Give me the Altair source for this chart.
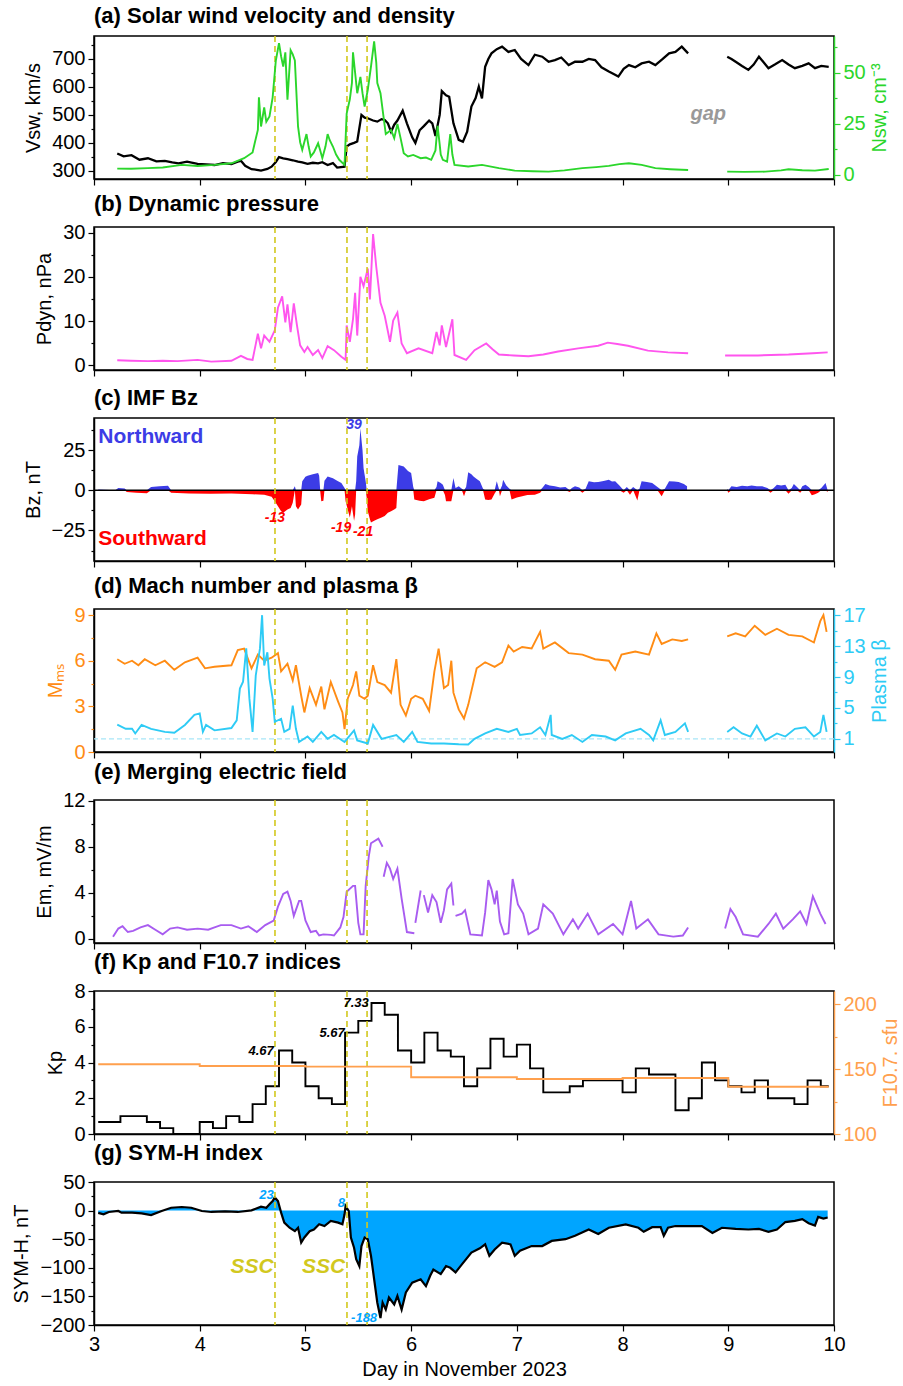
import altair as alt
import pandas as pd

FONT = "Liberation Sans"
W, H = 740, 143
XD = [3, 10]
EVENT_DAYS = [4.712, 5.393, 5.583]
X_TICKS = [3 + 0.25 * i for i in range(29)]

YEL = "#d2c81e"
GREEN = "#2bd62b"
MAGENTA = "#ff55ee"
BZ_BLUE = "#3c3ce6"
BZ_RED = "#ff0000"
ORANGE = "#ff8c14"
CYAN = "#2ecbf5"
PURPLE = "#a85cf0"
F107_COL = "#ffa04d"
SYM_FILL = "#00a5ff"

# ---------------- data (day, value); None marks a data gap ----------------
VSW = [(3.22, 362), (3.28, 352), (3.355, 356), (3.43, 340), (3.51, 345), (3.59, 334), (3.67, 336), (3.74, 330),
       (3.80, 327), (3.88, 333), (3.98, 325), (4.06, 323), (4.14, 321), (4.22, 328), (4.30, 324), (4.36, 333),
       (4.39, 336), (4.43, 318), (4.49, 306), (4.54, 304), (4.58, 301), (4.64, 307), (4.68, 315), (4.72, 332),
       (4.75, 349), (4.79, 345), (4.83, 342), (4.88, 338), (4.93, 333), (4.97, 330), (5.02, 325), (5.07, 329),
       (5.12, 327), (5.16, 331), (5.21, 321), (5.26, 328), (5.30, 312), (5.37, 315), (5.39, 387), (5.42, 395),
       (5.46, 400), (5.49, 405), (5.53, 500), (5.56, 490), (5.59, 488), (5.64, 480), (5.68, 476), (5.72, 485),
       (5.75, 482), (5.78, 470), (5.81, 440), (5.84, 465), (5.87, 480), (5.92, 515), (5.96, 470), (6.01, 420),
       (6.04, 400), (6.08, 445), (6.12, 460), (6.17, 480), (6.20, 470), (6.23, 425), (6.27, 500), (6.29, 585),
       (6.33, 570), (6.36, 565), (6.40, 470), (6.45, 411), (6.49, 404), (6.53, 440), (6.57, 530), (6.61, 560),
       (6.64, 601), (6.67, 559), (6.70, 672), (6.73, 700), (6.76, 720), (6.81, 735), (6.86, 744), (6.92, 725),
       (6.98, 732), (7.04, 700), (7.11, 678), (7.17, 715), (7.24, 708), (7.30, 690), (7.36, 696), (7.42, 705),
       (7.49, 678), (7.55, 690), (7.62, 690), (7.68, 700), (7.74, 696), (7.80, 670), (7.87, 655), (7.92, 645),
       (7.96, 637), (8.01, 665), (8.06, 678), (8.12, 670), (8.18, 684), (8.25, 690), (8.31, 678), (8.38, 700),
       (8.44, 720), (8.50, 725), (8.56, 744), (8.62, 720), (8.80, None), (8.99, 708), (9.03, 700), (9.07, 690),
       (9.13, 675), (9.19, 661), (9.24, 680), (9.29, 708), (9.33, 690), (9.38, 667), (9.44, 680), (9.51, 696),
       (9.57, 680), (9.63, 667), (9.70, 675), (9.76, 684), (9.82, 667), (9.88, 675), (9.95, 672)]

NSW = [(3.22, 3.1), (3.35, 3.0), (3.51, 3.3), (3.65, 3.6), (3.83, 4.9), (3.98, 4.4), (4.14, 4.9), (4.30, 5.7),
       (4.42, 8.2), (4.50, 11), (4.52, 15.5), (4.55, 22), (4.56, 38), (4.58, 23.7), (4.61, 33), (4.63, 26),
       (4.66, 28.6), (4.69, 38), (4.72, 56), (4.75, 64.5), (4.77, 58), (4.79, 53), (4.81, 60), (4.83, 36.8),
       (4.86, 61), (4.88, 59), (4.90, 56), (4.93, 23.7), (4.95, 16), (4.97, 12.3), (5.01, 20), (5.03, 14),
       (5.05, 9), (5.08, 11), (5.12, 15.5), (5.14, 12), (5.16, 8.2), (5.19, 14), (5.21, 20), (5.23, 17),
       (5.26, 13.9), (5.29, 10), (5.32, 7.4), (5.37, 4.9), (5.39, 30), (5.42, 37), (5.44, 45), (5.45, 60),
       (5.47, 50), (5.49, 40), (5.52, 48), (5.54, 40), (5.56, 33.5), (5.59, 41.7), (5.62, 53), (5.65, 65.4),
       (5.67, 55), (5.68, 45), (5.71, 40), (5.73, 32), (5.76, 20), (5.81, 22), (5.84, 18), (5.87, 25),
       (5.90, 18), (5.93, 10.6), (5.97, 9), (6.02, 9.8), (6.09, 8.2), (6.14, 8.5), (6.19, 7.4), (6.23, 12),
       (6.25, 24), (6.27, 15), (6.28, 10), (6.30, 7.4), (6.34, 6.5), (6.37, 20), (6.39, 10), (6.41, 4.9),
       (6.54, 4.1), (6.67, 4.9), (6.83, 3.3), (6.98, 2.1), (7.15, 1.8), (7.30, 1.6), (7.45, 2.2), (7.62, 3.3),
       (7.75, 3.8), (7.87, 4.4), (7.97, 5.3), (8.06, 5.7), (8.18, 4.9), (8.31, 3.3), (8.45, 2.8), (8.56, 2.5),
       (8.62, 2.4), (8.80, None), (8.99, 1.6), (9.15, 1.5), (9.35, 1.6), (9.50, 2.2), (9.57, 2.8), (9.70, 2.3),
       (9.82, 2.1), (9.95, 2.9)]

PDYN = [(3.22, 1.1), (3.35, 1.0), (3.51, 0.9), (3.65, 1.0), (3.79, 0.9), (3.98, 1.2), (4.11, 0.8), (4.30, 1.0),
        (4.39, 2.1), (4.45, 1.4), (4.50, 1.2), (4.55, 7.1), (4.58, 3.8), (4.61, 6.7), (4.66, 5.3), (4.71, 7.9),
        (4.74, 13), (4.78, 15.6), (4.81, 9.7), (4.83, 13.8), (4.86, 7.5), (4.89, 14), (4.92, 9), (4.95, 4.5),
        (4.99, 3.0), (5.02, 4.1), (5.07, 2.3), (5.12, 3.4), (5.16, 1.6), (5.21, 4.3), (5.27, 3.4), (5.34, 1.9),
        (5.38, 1.2), (5.39, 9), (5.42, 5.3), (5.45, 10.4), (5.47, 16.4), (5.49, 6.7), (5.52, 20), (5.55, 17.9),
        (5.59, 21.9), (5.61, 14.9), (5.64, 29.7), (5.67, 22.3), (5.71, 14.1), (5.75, 11.2), (5.80, 5.3),
        (5.83, 10.1), (5.87, 11.9), (5.91, 4.9), (5.96, 2.7), (6.07, 3.8), (6.20, 2.7), (6.24, 7.5), (6.27, 4.5),
        (6.29, 9), (6.33, 4.1), (6.39, 10.4), (6.41, 2.3), (6.52, 1.2), (6.60, 3.4), (6.71, 4.9), (6.77, 3.6),
        (6.83, 2.4), (6.97, 2.2), (7.11, 2.0), (7.25, 2.4), (7.39, 3.1), (7.58, 3.8), (7.77, 4.4), (7.86, 5.1),
        (7.95, 4.8), (8.05, 4.4), (8.24, 3.3), (8.43, 2.9), (8.62, 2.7), (8.80, None), (8.97, 2.2), (9.28, 2.2),
        (9.57, 2.4), (9.80, 2.7), (9.94, 2.9)]

BZ = [(3.04, 0.5), (3.20, 0.0), (3.23, 1.4), (3.29, 1.2), (3.31, -1.0), (3.40, -1.6), (3.50, -1.8), (3.54, 2.0),
      (3.62, 2.5), (3.70, 2.8), (3.73, -1.5), (3.90, -2.0), (4.10, -2.2), (4.30, -2.0), (4.50, -2.5), (4.61, -2.7),
      (4.68, -4.0), (4.71, -6.8), (4.74, -10), (4.77, -13), (4.79, -14), (4.83, -12), (4.86, -11), (4.88, -7.8),
      (4.90, 2.5), (4.91, -10), (4.93, -12), (4.96, -8.8), (4.97, 5.6), (5.00, 8.5), (5.02, 9.0), (5.07, 10.0),
      (5.12, 10.7), (5.13, 9.0), (5.14, -0.6), (5.15, -6.8), (5.17, -6.5), (5.18, 6.0), (5.21, 8.6), (5.26, 7.5),
      (5.30, 6.0), (5.34, 4.5), (5.37, 1.4), (5.38, -6.8), (5.40, -12), (5.42, -17), (5.44, -10), (5.46, -19),
      (5.47, -15), (5.48, 5.6), (5.49, 21), (5.51, 28), (5.52, 38.5), (5.54, 25), (5.55, 13.8), (5.57, 5.6),
      (5.58, -5), (5.59, -13), (5.61, -18), (5.62, -20), (5.65, -19), (5.68, -18), (5.72, -17), (5.75, -16),
      (5.78, -14), (5.81, -13), (5.84, -12), (5.86, -11), (5.87, 8), (5.88, 15.8), (5.93, 14.8), (5.97, 12),
      (6.00, 10.7), (6.02, 2), (6.03, -5.8), (6.08, -6.5), (6.12, -6.8), (6.17, -5.5), (6.22, -4.7), (6.24, 2),
      (6.25, 5.6), (6.28, 4.5), (6.30, 3.5), (6.32, -3), (6.33, -6.8), (6.38, -6.8), (6.40, 7.6), (6.42, 1.5),
      (6.45, 2.5), (6.48, 1.0), (6.50, -3.7), (6.52, 2), (6.54, 11.3), (6.57, 10), (6.59, 8.6), (6.62, 7),
      (6.65, 5.6), (6.68, 1), (6.70, -5.8), (6.73, -6.0), (6.76, -5.8), (6.79, -2), (6.81, 5.6), (6.83, 1),
      (6.84, -3.7), (6.86, 3), (6.87, 6.6), (6.90, 3), (6.93, 1), (6.95, -5.8), (7.00, -4.5), (7.05, -3.7),
      (7.10, -3.0), (7.17, -2.7), (7.22, -1.5), (7.24, 1.5), (7.27, 3.9), (7.31, 3.0), (7.36, 2.5), (7.41, 1.8),
      (7.46, 2.0), (7.50, -1.0), (7.52, 1.5), (7.55, 2.5), (7.59, 1.8), (7.62, -1.6), (7.65, 1.0), (7.68, 5.6),
      (7.73, 5.0), (7.77, 5.2), (7.82, 5.8), (7.87, 6.6), (7.90, 5.5), (7.93, 5.6), (7.97, 3), (8.01, -1.6),
      (8.04, 2), (8.07, -2.7), (8.10, 2), (8.14, -6.4), (8.16, 1), (8.18, 5.6), (8.23, 5.2), (8.28, 4.6),
      (8.33, 2), (8.37, -3.7), (8.40, 1), (8.44, 5.6), (8.49, 5.5), (8.53, 5.2), (8.58, 4), (8.61, 2.5),
      (8.80, None), (8.99, 1.0), (9.00, -1.6), (9.03, 2.5), (9.08, 2.0), (9.13, 2.9), (9.18, 2.5), (9.22, 3.0),
      (9.27, 2.5), (9.32, 2.5), (9.37, 1.5), (9.40, -1.6), (9.43, 1.5), (9.46, 3.5), (9.50, 3.0), (9.54, 3.5),
      (9.57, -2.2), (9.60, 1.5), (9.62, 3.9), (9.65, 2.0), (9.68, -1.6), (9.70, 2.5), (9.73, 3.5), (9.76, 2.0),
      (9.79, -3.1), (9.82, -2.5), (9.85, -1.6), (9.88, 1.5), (9.92, 4.5), (9.94, -1.0)]

MMS = [(3.22, 6.1), (3.29, 5.8), (3.36, 6.0), (3.42, 5.7), (3.48, 6.1), (3.58, 5.7), (3.67, 6.0), (3.76, 5.4),
       (3.86, 5.9), (3.98, 6.2), (4.05, 5.5), (4.14, 5.6), (4.30, 5.7), (4.36, 6.7), (4.42, 6.8), (4.49, 5.5),
       (4.55, 6.4), (4.61, 6.0), (4.68, 6.2), (4.74, 6.5), (4.77, 5.3), (4.83, 5.8), (4.88, 4.7), (4.91, 5.7),
       (4.96, 3.7), (4.99, 2.6), (5.04, 4.2), (5.10, 3.1), (5.15, 4.3), (5.18, 2.8), (5.24, 4.6), (5.31, 3.3),
       (5.35, 2.6), (5.37, 1.5), (5.40, 3.5), (5.45, 4.4), (5.48, 5.3), (5.51, 3.7), (5.56, 3.5), (5.59, 3.7),
       (5.64, 5.7), (5.68, 4.6), (5.75, 4.4), (5.81, 3.9), (5.86, 6.1), (5.90, 3.1), (5.95, 2.4), (6.00, 3.5),
       (6.04, 3.7), (6.11, 3.5), (6.17, 2.7), (6.22, 5.3), (6.26, 6.8), (6.31, 4.2), (6.35, 4.4), (6.38, 6.0),
       (6.40, 3.9), (6.45, 2.8), (6.50, 2.2), (6.54, 3.1), (6.59, 4.6), (6.62, 5.5), (6.70, 5.9), (6.79, 5.6),
       (6.86, 5.9), (6.92, 7.0), (6.97, 6.6), (7.05, 6.9), (7.14, 6.8), (7.22, 7.9), (7.25, 6.8), (7.36, 7.2),
       (7.49, 6.5), (7.62, 6.4), (7.74, 6.1), (7.87, 6.0), (7.93, 5.4), (7.99, 6.4), (8.12, 6.6), (8.25, 6.4),
       (8.32, 7.8), (8.37, 7.1), (8.47, 7.4), (8.56, 7.3), (8.62, 7.4), (8.80, None), (8.99, 7.6), (9.07, 7.8),
       (9.16, 7.6), (9.25, 8.3), (9.35, 7.7), (9.46, 8.1), (9.57, 7.7), (9.70, 7.6), (9.81, 7.2), (9.87, 8.6),
       (9.90, 9.0), (9.93, 7.9)]

BETA = [(3.22, 2.85), (3.30, 2.3), (3.36, 2.3), (3.39, 1.7), (3.45, 2.8), (3.54, 2.3), (3.67, 1.9), (3.76, 1.8),
        (3.86, 2.8), (3.95, 4.1), (4.00, 4.3), (4.03, 1.9), (4.06, 2.8), (4.14, 2.1), (4.30, 2.4), (4.35, 3.4),
        (4.38, 7.5), (4.41, 8.4), (4.44, 12.7), (4.47, 6.2), (4.50, 1.9), (4.53, 9.2), (4.57, 12.7), (4.59, 17.0),
        (4.61, 10.5), (4.64, 12.2), (4.66, 8.8), (4.69, 6.2), (4.71, 3.2), (4.77, 3.6), (4.80, 1.9), (4.85, 2.3),
        (4.88, 5.3), (4.91, 2.3), (4.94, 0.6), (5.02, 1.3), (5.07, 0.6), (5.15, 1.9), (5.21, 1.0), (5.27, 1.5),
        (5.37, 0.6), (5.46, 2.1), (5.49, 0.8), (5.59, 0.4), (5.64, 2.8), (5.72, 1.0), (5.86, 1.5), (5.93, 0.6),
        (6.01, 1.9), (6.06, 0.6), (6.19, 0.4), (6.31, 0.4), (6.45, 0.3), (6.54, 0.27), (6.60, 1.0), (6.70, 1.7),
        (6.81, 2.3), (6.92, 1.9), (7.00, 2.3), (7.03, 1.5), (7.14, 1.7), (7.22, 2.5), (7.27, 1.5), (7.32, 4.1),
        (7.33, 1.5), (7.43, 1.0), (7.52, 1.5), (7.62, 0.6), (7.71, 1.5), (7.84, 1.3), (7.93, 0.8), (8.03, 1.7),
        (8.17, 2.3), (8.25, 1.5), (8.29, 0.8), (8.36, 3.4), (8.40, 1.5), (8.50, 1.9), (8.59, 3.0), (8.62, 1.9),
        (8.80, None), (8.99, 1.9), (9.05, 2.5), (9.13, 1.7), (9.21, 1.3), (9.27, 2.7), (9.35, 0.8), (9.46, 1.7),
        (9.54, 1.3), (9.63, 2.3), (9.73, 2.5), (9.81, 1.3), (9.87, 1.9), (9.90, 4.1), (9.93, 1.9)]

EM = [(3.18, 0.2), (3.23, 0.9), (3.27, 1.1), (3.32, 0.6), (3.37, 0.7), (3.44, 1.0), (3.51, 1.2), (3.58, 0.8),
      (3.65, 0.4), (3.72, 0.9), (3.79, 1.0), (3.88, 0.8), (3.98, 0.9), (4.08, 0.8), (4.14, 1.0), (4.20, 1.2),
      (4.30, 1.2), (4.39, 0.9), (4.46, 1.1), (4.54, 0.6), (4.62, 1.2), (4.70, 1.6), (4.74, 2.8), (4.79, 3.9),
      (4.83, 4.1), (4.86, 3.3), (4.89, 2.0), (4.94, 3.3), (4.96, 3.3), (5.00, 1.6), (5.05, 0.6), (5.10, 0.7),
      (5.13, 0.3), (5.17, 0.4), (5.24, 0.35), (5.27, 0.3), (5.33, 1.0), (5.36, 1.9), (5.39, 4.1), (5.45, 4.6),
      (5.47, 4.6), (5.50, 1.4), (5.52, 0.4), (5.55, 0.4), (5.57, 4.6), (5.60, 7.2), (5.62, 8.3), (5.69, 8.7),
      (5.73, 8.0), (5.735, None), (5.74, 5.4), (5.77, 6.6), (5.80, 6.1), (5.83, 5.2), (5.87, 6.1), (5.91, 3.5),
      (5.96, 0.6), (6.03, 0.5), (6.035, None), (6.04, 1.4), (6.09, 4.2), (6.10, None), (6.12, 3.8), (6.16, 2.3),
      (6.20, 3.8), (6.24, 3.2), (6.28, 1.4), (6.31, 2.5), (6.34, 4.3), (6.38, 4.8), (6.40, 2.9), (6.41, None),
      (6.42, 2.0), (6.48, 2.2), (6.51, 2.5), (6.56, 0.4), (6.67, 0.3), (6.70, 2.3), (6.73, 5.1), (6.76, 4.3),
      (6.79, 3.0), (6.81, 4.2), (6.84, 1.5), (6.88, 0.4), (6.92, 0.5), (6.96, 5.2), (7.01, 3.0), (7.06, 2.2),
      (7.11, 0.4), (7.20, 0.9), (7.25, 3.0), (7.34, 2.2), (7.44, 0.4), (7.53, 1.7), (7.58, 0.9), (7.67, 2.2),
      (7.77, 0.4), (7.91, 1.3), (8.00, 0.4), (8.08, 3.3), (8.13, 0.9), (8.24, 1.7), (8.34, 0.4), (8.48, 0.2),
      (8.57, 0.3), (8.62, 1.0), (8.80, None), (8.97, 0.9), (9.02, 2.6), (9.07, 1.9), (9.14, 0.4), (9.28, 0.2),
      (9.38, 1.3), (9.45, 2.2), (9.52, 0.9), (9.61, 1.7), (9.68, 2.4), (9.74, 1.3), (9.80, 3.7), (9.87, 2.2),
      (9.92, 1.3)]

KP_T = [3.04, 3.25, 3.5, 3.625, 3.75, 4.0, 4.125, 4.25, 4.375, 4.5, 4.625, 4.75, 4.875, 5.0, 5.125, 5.25,
        5.375, 5.5, 5.625, 5.75, 5.875, 6.0, 6.125, 6.25, 6.375, 6.5, 6.625, 6.75, 6.875, 7.0, 7.125, 7.25,
        7.5, 7.625, 8.0, 8.125, 8.25, 8.5, 8.625, 8.75, 8.875, 9.0, 9.125, 9.25, 9.375, 9.625, 9.75, 9.875, 9.95]
KP_V = [0.67, 1.0, 0.67, 0.33, 0.0, 0.67, 0.33, 1.0, 0.67, 1.67, 2.67, 4.67, 4.0, 2.67, 2.0, 1.67,
        5.67, 6.33, 7.33, 6.67, 4.67, 4.0, 5.67, 4.67, 4.33, 2.67, 3.67, 5.33, 4.33, 5.0, 3.67, 2.33,
        2.67, 3.0, 2.33, 3.67, 3.33, 1.33, 2.0, 4.0, 3.0, 2.67, 2.33, 3.0, 2.0, 1.67, 3.0, 2.67, 2.67]

F107_T = [3.04, 4.0, 5.0, 6.0, 7.0, 8.0, 9.0, 9.95]
F107_V = [153.6, 152.3, 151.8, 143.6, 142.3, 143.1, 136.4, 136.4]

SYMH = [(3.04, -4), (3.09, -6.5), (3.14, -2.4), (3.23, -0.7), (3.26, -3.6), (3.36, -3.6), (3.45, -4.8),
        (3.54, -7.7), (3.64, -0.7), (3.73, 5), (3.83, 6.3), (3.92, 5), (4.02, -0.7), (4.11, -2.4), (4.24, -1.2),
        (4.36, -2.4), (4.49, 0.5), (4.58, 6.9), (4.63, 5), (4.66, 11), (4.69, 16.8), (4.71, 23), (4.74, 16.8),
        (4.77, -3.6), (4.80, -21), (4.85, -30), (4.90, -36), (4.93, -30), (4.96, -56), (4.99, -47), (5.04, -36),
        (5.08, -33), (5.13, -24), (5.18, -27), (5.24, -18), (5.31, -21), (5.35, -24), (5.37, -6.5), (5.38, 8),
        (5.41, -0.7), (5.43, -47), (5.46, -65), (5.48, -85), (5.51, -97), (5.53, -62), (5.56, -47), (5.59, -50),
        (5.62, -79), (5.65, -120), (5.68, -161), (5.71, -188), (5.73, -161), (5.76, -173), (5.79, -152),
        (5.84, -164), (5.87, -149), (5.91, -173), (5.95, -143), (6.01, -126), (6.09, -120), (6.14, -132),
        (6.18, -114), (6.21, -103), (6.28, -111), (6.33, -97), (6.37, -100), (6.42, -108), (6.48, -94),
        (6.57, -73.5), (6.65, -66), (6.70, -59), (6.74, -79), (6.79, -68), (6.86, -56), (6.94, -59), (6.98, -79),
        (7.03, -70), (7.14, -62), (7.24, -62), (7.33, -53), (7.46, -50), (7.55, -44), (7.68, -33), (7.77, -41),
        (7.87, -30), (8.03, -24), (8.15, -30), (8.20, -37), (8.28, -29), (8.36, -29), (8.39, -44), (8.43, -30),
        (8.50, -27), (8.62, -27), (8.75, -27), (8.85, -39), (8.94, -30), (9.07, -32), (9.19, -33), (9.29, -32),
        (9.38, -37), (9.46, -33), (9.54, -20), (9.63, -18), (9.70, -15), (9.76, -22), (9.82, -26), (9.85, -11),
        (9.90, -14), (9.94, -12)]

# annotations: (text, day, value, colour)
GAP_LABEL = [("gap", 8.81, 504, "#999999")]
BZ_NUMS = [("39", 5.46, 40.5, BZ_BLUE), ("-13", 4.712, -17.3, BZ_RED), ("-19", 5.337, -23.2, BZ_RED),
           ("-21", 5.545, -25.7, BZ_RED)]
BZ_WORDS = [("Northward", 3.04, 33.3, BZ_BLUE), ("Southward", 3.04, -30.2, BZ_RED)]
KP_RIGHT = [("4.67", 4.70, 4.64), ("5.67", 5.372, 5.67)]
KP_CENTER = [("7.33", 5.48, 7.33)]
SYM_RIGHT = [("23", 4.70, 27), ("8", 5.375, 13)]
SYM_CENTER = [("-188", 5.555, -187)]
SSC = [("SSC", 4.70, -99), ("SSC", 5.375, -99)]

LABEL_SIZE = 20


def series(pairs):
    df = pd.DataFrame(pairs, columns=["t", "v"])
    df["seg"] = df["v"].isna().cumsum()
    df = df.dropna().copy()
    df["z"] = 0.0
    return df


def labels_df(rows, cols):
    return pd.DataFrame(rows, columns=cols)


def x_enc(bottom=False):
    ax = dict(values=X_TICKS, grid=False, labelFlush=False, labelOverlap=False, format="d",
              tickSize={"condition": {"test": "datum.value % 1 == 0", "value": 6}, "value": 3},
              domainColor="black", tickColor="black")
    if bottom:
        ax.update(labelExpr="datum.value % 1 == 0 ? datum.label : ''",
                  title="Day in November 2023", labelPadding=3, titlePadding=5)
    else:
        ax.update(labels=False, title=None)
    return alt.X("t:Q", scale=alt.Scale(domain=XD, nice=False, zero=False), axis=alt.Axis(**ax))


def y_enc(field, domain, vals, major, title, orient="left", label_color="black",
          domain_color="black", tick_color="black"):
    extra = dict(titlePadding=8)
    if orient == "right":
        extra = dict(titleAngle=270, titleBaseline="top", titlePadding=4)
    ax = alt.Axis(values=vals, orient=orient, title=title, grid=False, labelOverlap=False,
                  labelFlush=False,
                  labelExpr=f"({major}) ? datum.label : ''",
                  tickSize={"condition": {"test": major, "value": 6}, "value": 3},
                  labelColor=label_color, titleColor=label_color, tickColor=tick_color,
                  domainColor=domain_color, labelPadding=3, **extra)
    return alt.Y(field, scale=alt.Scale(domain=domain, nice=False, zero=False), axis=ax)


def events(bottom=False):
    return alt.Chart(pd.DataFrame({"t": EVENT_DAYS})).mark_rule(
        color=YEL, strokeDash=[6, 4], strokeWidth=1.6).encode(x=x_enc(bottom))


def title(text):
    return alt.TitleParams(text, anchor="start", frame="group", offset=7, fontSize=22,
                           fontWeight="bold", font=FONT, color="black")


def line(df, color, y, bottom=False, width=1.9):
    return alt.Chart(df).mark_line(color=color, strokeWidth=width).encode(
        x=x_enc(bottom), y=y, detail="seg:N")


def text_layer(df, y, color_field=True, align="center", size=14, style="italic", weight="bold",
               color="black", bottom=False):
    enc = dict(x=x_enc(bottom), y=y, text="label:N")
    if color_field:
        enc["color"] = alt.Color("c:N", scale=None)
    return alt.Chart(df).mark_text(align=align, baseline="middle", fontSize=size, fontStyle=style,
                                   fontWeight=weight, font=FONT, color=color).encode(**enc)


# ---------------- (a) ----------------
vsw_y = lambda f: y_enc(f, [271, 782], list(range(300, 751, 50)), "datum.value % 100 == 0", "Vsw, km/s")
nsw_y = y_enc("v:Q", [-2, 68], [0, 12.5, 25, 37.5, 50, 62.5], "datum.value % 25 == 0", "Nsw, cm⁻³",
              orient="right", label_color=GREEN, domain_color=GREEN, tick_color=GREEN)
pa_left = alt.layer(
    line(series(VSW), "black", vsw_y("v:Q"), width=2.3),
    events(),
    text_layer(labels_df(GAP_LABEL, ["label", "t", "v", "c"]), vsw_y("v:Q"), size=20),
)
pa_right = line(series(NSW), GREEN, nsw_y)
panel_a = alt.layer(pa_left, pa_right).resolve_scale(y="independent").properties(
    width=W, height=H, title=title("(a) Solar wind velocity and density"))

# ---------------- (b) ----------------
pd_y = y_enc("v:Q", [-1.1, 31.3], [0, 5, 10, 15, 20, 25, 30], "datum.value % 10 == 0", "Pdyn, nPa")
panel_b = alt.layer(line(series(PDYN), MAGENTA, pd_y), events()).properties(
    width=W, height=H, title=title("(b) Dynamic pressure"))

# ---------------- (c) ----------------
bz_dom = [-44, 45]
bz_vals = [-37.5, -25, -12.5, 0, 12.5, 25, 37.5]
bz_major = "datum.value % 25 == 0"
bz_y = lambda f: y_enc(f, bz_dom, bz_vals, bz_major, "Bz, nT")
bz_df = series(BZ)
bz_df["pos"] = bz_df["v"].clip(lower=0)
bz_df["neg"] = bz_df["v"].clip(upper=0)
zero_df = pd.DataFrame({"v": [0.0]})
panel_c = alt.layer(
    alt.Chart(bz_df).mark_area(color=BZ_BLUE, opacity=1).encode(
        x=x_enc(), y=bz_y("pos:Q"), y2="z:Q", detail="seg:N"),
    alt.Chart(bz_df).mark_area(color=BZ_RED, opacity=1).encode(
        x=x_enc(), y=bz_y("neg:Q"), y2="z:Q", detail="seg:N"),
    alt.Chart(zero_df).mark_rule(color="black", strokeWidth=1.4).encode(y=bz_y("v:Q")),
    events(),
    text_layer(labels_df(BZ_NUMS, ["label", "t", "v", "c"]), bz_y("v:Q"), size=14),
    text_layer(labels_df(BZ_WORDS, ["label", "t", "v", "c"]), bz_y("v:Q"), align="left", size=21,
               style="normal"),
).properties(width=W, height=H, title=title("(c) IMF Bz"))

# ---------------- (d) ----------------
mms_y = y_enc("v:Q", [0, 9.4], [0, 1.5, 3, 4.5, 6, 7.5, 9], "datum.value % 3 == 0", "Mₘₛ",
              label_color=ORANGE, tick_color=ORANGE)
beta_y = y_enc("v:Q", [-0.7, 17.8], [1, 3, 5, 7, 9, 11, 13, 15, 17], "(datum.value - 1) % 4 == 0",
               "Plasma β", orient="right", label_color=CYAN, domain_color=CYAN, tick_color=CYAN)
pd_left = alt.layer(line(series(MMS), ORANGE, mms_y), events())
pd_right = alt.layer(
    alt.Chart(pd.DataFrame({"v": [1.0]})).mark_rule(color="#a8e6f8", strokeDash=[5, 3],
                                                    strokeWidth=1.2).encode(y=beta_y),
    line(series(BETA), CYAN, beta_y),
)
panel_d = alt.layer(pd_left, pd_right).resolve_scale(y="independent").properties(
    width=W, height=H, title=title("(d) Mach number and plasma β"))

# ---------------- (e) ----------------
em_y = y_enc("v:Q", [-0.35, 12.05], [0, 2, 4, 6, 8, 10, 12], "datum.value % 4 == 0", "Em, mV/m")
panel_e = alt.layer(line(series(EM), PURPLE, em_y), events()).properties(
    width=W, height=H, title=title("(e) Merging electric field"))

# ---------------- (f) ----------------
kp_y = y_enc("v:Q", [0, 8], [0, 1, 2, 3, 4, 5, 6, 7, 8], "datum.value % 2 == 0", "Kp")
f107_y = y_enc("v:Q", [100, 210], [100, 125, 150, 175, 200], "datum.value % 50 == 0", "F10.7. sfu",
               orient="right", label_color=F107_COL, domain_color=F107_COL, tick_color=F107_COL)
kp_df = pd.DataFrame({"t": KP_T, "v": KP_V})
f107_df = pd.DataFrame({"t": F107_T, "v": F107_V})
pf_left = alt.layer(
    alt.Chart(kp_df).mark_line(color="black", strokeWidth=1.9, interpolate="step-after").encode(
        x=x_enc(), y=kp_y),
    events(),
    text_layer(labels_df(KP_RIGHT, ["label", "t", "v"]), kp_y, color_field=False, align="right", size=13),
    text_layer(labels_df(KP_CENTER, ["label", "t", "v"]), kp_y, color_field=False, size=13),
)
pf_right = alt.Chart(f107_df).mark_line(color=F107_COL, strokeWidth=1.9, interpolate="step-after").encode(
    x=x_enc(), y=f107_y)
panel_f = alt.layer(pf_left, pf_right).resolve_scale(y="independent").properties(
    width=W, height=H, title=title("(f) Kp and F10.7 indices"))

# ---------------- (g) ----------------
sym_y = y_enc("v:Q", [-200, 50], list(range(-200, 51, 25)), "datum.value % 50 == 0", "SYM-H, nT")
sym_df = series(SYMH)
panel_g = alt.layer(
    alt.Chart(sym_df).mark_area(color=SYM_FILL, opacity=1).encode(x=x_enc(True), y=sym_y, y2="z:Q"),
    alt.Chart(sym_df).mark_line(color="black", strokeWidth=2.2).encode(x=x_enc(True), y=sym_y),
    events(True),
    text_layer(labels_df(SYM_RIGHT, ["label", "t", "v"]), sym_y, color_field=False, align="right",
               size=13, color=SYM_FILL, bottom=True),
    text_layer(labels_df(SYM_CENTER, ["label", "t", "v"]), sym_y, color_field=False, size=13,
               color=SYM_FILL, bottom=True),
    text_layer(labels_df(SSC, ["label", "t", "v"]), sym_y, color_field=False, align="right", size=21,
               color=YEL, bottom=True),
).properties(width=W, height=H, title=title("(g) SYM-H index"))

chart = alt.vconcat(panel_a, panel_b, panel_c, panel_d, panel_e, panel_f, panel_g,
                    spacing=48, bounds="flush",
                    padding={"left": 11, "top": 4, "right": 0, "bottom": 2}).configure(
    font=FONT, background="white"
).configure_view(stroke="black", strokeWidth=1.5).configure_axis(
    labelFont=FONT, labelFontSize=LABEL_SIZE, titleFont=FONT, titleFontSize=LABEL_SIZE,
    titleFontWeight="normal", domainWidth=1.5, tickWidth=1.2
)

chart.save("out.html", embed_options={"renderer": "svg", "actions": False})
